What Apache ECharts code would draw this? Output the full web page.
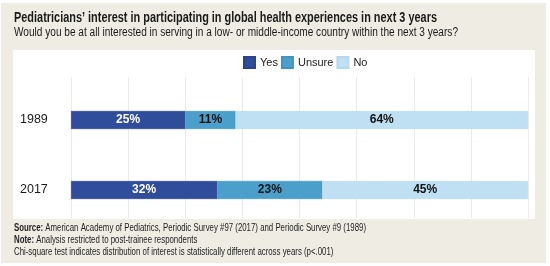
<!DOCTYPE html>
<html><head><meta charset="utf-8">
<script src="https://cdn.jsdelivr.net/npm/echarts@6/dist/echarts.min.js"></script>
<style>html,body{margin:0;padding:0;background:#fff}#c{width:550px;height:266px}</style>
</head><body><div id="c"></div>
<script>
var categories = ['1989', '2017'];
var seriesNames = ['Yes', 'Unsure', 'No'];
var yesValues = [25, 32];
var unsureValues = [11, 23];
var noValues = [64, 45];
var xTicks = [0, 12.5, 25, 37.5, 50, 62.5, 75, 87.5, 100];
var titleText = "Pediatricians’ interest in participating in global health experiences in next 3 years";
var subtitleText = 'Would you be at all interested in serving in a low- or middle-income country within the next 3 years?';
var notes = [
  ['Source:', ' American Academy of Pediatrics, Periodic Survey #97 (2017) and Periodic Survey #9 (1989)'],
  ['Note:', ' Analysis restricted to post-trainee respondents'],
  ['', 'Chi-square test indicates distribution of interest is statistically different across years (p<.001)']
];

var FONT = '"Liberation Sans", Arial, sans-serif';
var ctx = document.createElement('canvas').getContext('2d');
function w(txt, font) { ctx.font = font; return ctx.measureText(txt).width; }

var chart = echarts.init(document.getElementById('c'), null, {renderer: 'canvas'});
var colors = ['#2f4d9b', '#4a9fcb', '#bee0f2'];
var labelColors = ['#ffffff', '#111111', '#111111'];
var data = [yesValues, unsureValues, noValues];

var series = seriesNames.map(function (n, i) {
  return {
    name: n, type: 'bar', stack: 'all', xAxisIndex: 1, yAxisIndex: 1,
    barWidth: 18,
    data: data[i],
    itemStyle: {color: colors[i], borderColor: i === 0 ? '#28448c' : (i === 1 ? '#4393c2' : '#b5d8ec'), borderWidth: 0.6},
    label: {show: true, position: 'inside', formatter: '{c}%', color: labelColors[i],
      fontFamily: FONT, fontWeight: 'bold', fontSize: 12}
  };
});

// condensed look: horizontal scaling to the reference's line widths
var titleFont = 'bold 14.5px ' + FONT;
var subFont = '12.5px ' + FONT;
var noteFont = '11px ' + FONT;
var noteBold = 'bold 11px ' + FONT;
var titleScale = 423 / w(titleText, titleFont);
var subScale = 444 / w(subtitleText, subFont);
var noteScale = 352 / (w(notes[0][0], noteBold) + w(notes[0][1], noteFont));

var graphics = [
  {type: 'rect', shape: {x: 1, y: 3, width: 545, height: 260}, style: {fill: '#efede3'}, z: -10},
  {type: 'rect', shape: {x: 13, y: 50, width: 522, height: 169}, style: {fill: '#ffffff'}, z: -9},
  {type: 'text', x: 14, y: 17.5, scaleX: titleScale, style: {text: titleText, font: titleFont, fill: '#1a1a1a', textVerticalAlign: 'middle'}},
  {type: 'text', x: 14, y: 32.5, scaleX: subScale, style: {text: subtitleText, font: subFont, fill: '#1a1a1a', textVerticalAlign: 'middle'}}
];
notes.forEach(function (ln, i) {
  var y = 228 + i * 12;
  var x0 = 14;
  if (ln[0]) {
    graphics.push({type: 'text', x: x0, y: y, scaleX: noteScale, style: {text: ln[0], font: noteBold, fill: '#222', textVerticalAlign: 'middle'}});
    x0 += w(ln[0], noteBold) * noteScale;
  }
  graphics.push({type: 'text', x: x0, y: y, scaleX: noteScale, style: {text: ln[1], font: noteFont, fill: '#222', textVerticalAlign: 'middle'}});
});

chart.setOption({
  animation: false,
  backgroundColor: '#ffffff',
  graphic: graphics,
  legend: {
    data: seriesNames, left: 243, top: 56, padding: 0, itemWidth: 11, itemHeight: 11, itemGap: 3,
    icon: 'rect',
    textStyle: {fontFamily: FONT, fontSize: 11, color: '#1a1a1a', padding: [0, 0, 0, 0]}
  },
  grid: [
    {left: 71, right: 22, top: 77, bottom: 48},
    {left: 71, right: 22, top: 85, height: 140}
  ],
  xAxis: [
    {gridIndex: 0, type: 'value', min: xTicks[0], max: xTicks[xTicks.length - 1], interval: xTicks[1] - xTicks[0],
      axisLabel: {show: false}, axisLine: {show: false}, axisTick: {show: false},
      splitLine: {show: true, lineStyle: {color: '#ebebeb', width: 1}}},
    {gridIndex: 1, type: 'value', min: 0, max: 100,
      axisLabel: {show: false}, axisLine: {show: false}, axisTick: {show: false}, splitLine: {show: false}}
  ],
  yAxis: [
    {gridIndex: 0, type: 'category', data: categories, show: false},
    {gridIndex: 1, type: 'category', data: categories, inverse: true,
      axisLine: {show: false}, axisTick: {show: false},
      axisLabel: {fontFamily: FONT, fontSize: 12.5, color: '#1a1a1a', margin: 51, align: 'left'}}
  ],
  series: series
});
</script></body></html>
